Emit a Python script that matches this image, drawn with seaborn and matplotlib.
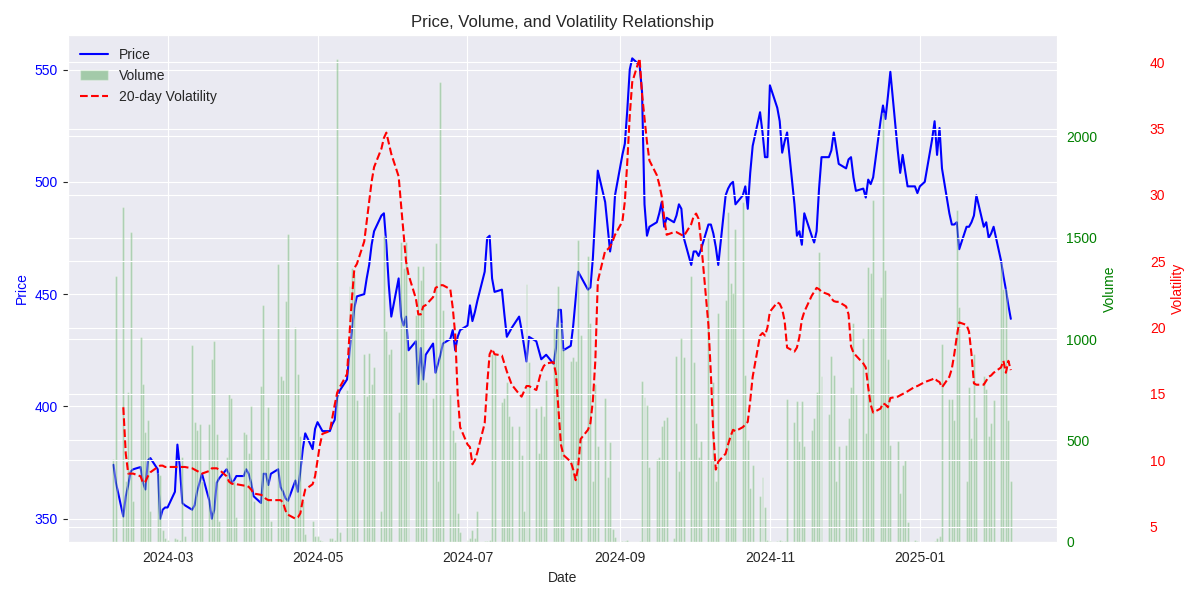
#!/usr/bin/env python3
# -*- coding: utf8 -*-

import numpy as np
import pandas as pd
import seaborn as sns
import matplotlib
matplotlib.use('Agg')
import matplotlib.pyplot as plt

# business days, 2024-02-08 .. 2025-02-07
start_date = '2024-02-08'
end_date = '2025-02-07'

# one row per week (Mon..Fri), first row is Thu/Fri
price = [
    374, 366,
    351, 360, 365, 371, 372,
    373, 366, 363, 376, 377,
    372, 350, 354, 355, 355,
    362, 383, 373, 357, 356,
    354, 356, 362, 366, 370,
    358, 350, 354, 366, 368,
    372, 370, 366, 367, 369,
    369, 372, 370, 366, 360,
    357, 370, 370, 365, 370,
    372, 364, 362, 359, 358,
    367, 362, 371, 381, 388,
    381, 390, 393, 391, 389,
    389, 392, 394, 404, 407,
    412, 424, 434, 444, 449,
    450, 457, 463, 472, 478,
    485, 486, 472, 454, 440,
    457, 440, 436, 440, 425,
    429, 410, 426, 412, 423,
    428, 415, 419, 423, 428,
    430, 434, 425, 431, 434,
    436, 445, 438, 442, 447,
    460, 475, 476, 457, 451,
    452, 441, 431, 433, 435,
    440, 434, 427, 420, 431,
    429, 425, 421, 422, 423,
    419, 426, 443, 443, 425,
    427, 436, 448, 460, 458,
    452, 453, 466, 486, 505,
    491, 480, 469, 476, 494,
    512, 517, 532, 550, 555,
    552, 540, 490, 476, 480,
    482, 486, 491, 480, 484,
    482, 485, 490, 488, 475,
    463, 469, 469, 467, 470,
    481, 481, 477, 471, 463,
    494, 497, 499, 500, 490,
    494, 498, 488, 504, 516,
    531, 522, 511, 511, 543,
    533, 527, 513, 518, 522,
    490, 476, 478, 472, 486,
    476, 473, 478, 497, 511,
    511, 514, 522, 515, 508,
    506, 510, 511, 502, 496,
    497, 493, 501, 499, 502,
    527, 534, 528, 538, 549,
    514, 504, 512, 505, 498,
    498, 495, 498, 499, 500,
    519, 527, 512, 524, 506,
    486, 481, 481, 482, 470,
    480, 480, 482, 485, 494,
    480, 482, 475, 477, 480,
    465, 458, 452, 445, 439,
]

volume = [
    410, 1310,
    1650, 300, 740, 1530, 200,
    1010, 780, 540, 600, 150,
    340, 330, 60, 20, 10,
    20, 15, 10, 420, 30,
    970, 590, 550, 580, 300,
    580, 900, 990, 530, 100,
    420, 730, 710, 300, 120,
    540, 530, 440, 670, 200,
    770, 1170, 410, 665, 100,
    1370, 820, 800, 1190, 1520,
    1060, 830, 520, 200, 40,
    100, 30, 30, 10, 5,
    20, 20, 10, 2380, 50,
    750, 1260, 1350, 1320, 700,
    925, 720, 930, 780, 860,
    150, 1510, 1040, 925, 950,
    640, 1480, 1350, 1480, 500,
    1120, 1360, 1290, 1360, 790,
    710, 1475, 300, 2270, 1145,
    730, 550, 490, 140, 50,
    10, 20, 60, 20, 150,
    5, 5, 10, 925, 925,
    690, 710, 790, 620, 570,
    570, 430, 150, 1270, 885,
    660, 440, 670, 620, 800,
    1060, 1060, 1260, 1080, 950,
    890, 910, 890, 1490, 1020,
    1410, 1080, 300, 780, 470,
    710, 320, 490, 65, 25,
    5, 5, 10, 0, 0,
    5, 795, 715, 675, 370,
    410, 420, 570, 600, 615,
    20, 915, 350, 1005, 910,
    1310, 885, 585, 420, 495,
    1500, 410, 790, 300, 1130,
    1195, 1625, 1275, 1225, 1545,
    1675, 825, 500, 265, 380,
    225, 320, 170, 10, 5,
    5, 10, 5, 5, 705,
    590, 695, 495, 695, 470,
    550, 610, 740, 1430, 820,
    630, 915, 825, 300, 470,
    475, 610, 765, 1080, 730,
    1005, 535, 1355, 1325, 1685,
    1210, 2115, 1340, 900, 475,
    495, 240, 380, 405, 95,
    10, 5, 0, 0, 0,
    0, 5, 20, 30, 975,
    705, 705, 600, 1635, 1160,
    300, 765, 510, 925, 615,
    820, 755, 520, 585, 700,
    1375, 1245, 1245, 600, 300,
]

volatility = [
    np.nan, np.nan,
    14.0, 10.5, 9.0, 9.0, 9.0,
    8.8, 8.3, 8.4, 8.8, 9.1,
    9.5, 9.6, 9.6, 9.5, 9.5,
    9.5, 9.5, 9.5, 9.5, 9.5,
    9.4, 9.3, 9.2, 9.1, 9.0,
    9.2, 9.4, 9.4, 9.4, 9.3,
    8.8, 8.4, 8.25, 8.2, 8.2,
    8.1, 8.1, 8.0, 7.8, 7.5,
    7.4, 7.3, 7.1, 7.0, 7.0,
    7.0, 7.0, 6.8, 6.2, 5.9,
    5.6, 5.7, 6.0, 7.0, 7.8,
    8.2, 8.8, 10.0, 11.2, 12.0,
    12.2, 13.2, 14.2, 15.1, 15.5,
    16.5, 19.5, 22.2, 24.5, 24.8,
    26.5, 28.0, 29.5, 31.0, 32.1,
    33.5, 34.3, 34.7, 33.9, 33.1,
    31.4, 29.2, 27.1, 25.0, 24.0,
    22.2, 21.0, 21.0, 21.6, 21.7,
    22.3, 23.0, 23.1, 23.2, 23.2,
    22.9, 21.5, 19.5, 15.0, 12.5,
    11.2, 11.0, 9.7, 10.0, 10.6,
    12.8, 15.7, 18.0, 18.4, 18.0,
    17.9, 17.3, 16.7, 16.2, 15.7,
    15.0, 14.8, 15.2, 15.6, 15.6,
    15.3, 16.0, 16.7, 17.1, 17.3,
    17.4, 16.5, 13.8, 11.2, 10.4,
    9.9, 9.3, 8.5, 9.5, 11.6,
    12.3, 12.8, 14.5, 17.5, 23.5,
    25.8, 25.9, 26.1, 26.5, 27.0,
    28.0, 29.5, 32.5, 36.0, 38.5,
    40.3, 37.6, 35.8, 34.0, 32.6,
    31.5, 30.8, 29.9, 28.3, 27.0,
    27.2, 27.2, 27.1, 27.0, 26.9,
    27.8, 28.4, 28.6, 28.2, 26.5,
    20.2, 16.5, 12.0, 9.3, 9.9,
    10.5, 11.2, 11.8, 12.3, 12.2,
    12.5, 12.7, 12.9, 14.5, 16.3,
    19.4, 19.6, 19.4, 20.0, 21.2,
    21.9, 21.8, 21.4, 20.5, 18.5,
    18.2, 18.5, 19.3, 20.6, 21.2,
    22.4, 22.7, 23.0, 22.9, 22.7,
    22.5, 22.2, 22.0, 21.95, 21.95,
    21.6, 21.0, 18.6, 18.1, 17.9,
    17.3, 17.0, 15.5, 14.2, 13.6,
    13.9, 14.3, 14.2, 14.0, 14.7,
    14.8, 14.9, 15.0, 15.1, 15.2,
    15.55, 15.6, 15.7, 15.8, 15.9,
    16.1, 16.2, 16.0, 15.9, 15.5,
    16.3, 16.9, 18.0, 19.3, 20.4,
    20.2, 19.7, 18.0, 15.8, 15.7,
    15.7, 16.0, 16.3, 16.4, 16.6,
    17.0, 17.5, 16.6, 17.5, 16.8,
]


def plot(output='out.png'):
    dates = pd.bdate_range(start_date, end_date)
    df = pd.DataFrame({'Date': dates, 'Price': price,
                       'Volume': volume, 'Volatility': volatility})

    sns.set_style('darkgrid')
    plt.rcParams['font.family'] = ['Liberation Sans', 'DejaVu Sans']

    fig, ax1 = plt.subplots(figsize=(12, 6))

    sns.lineplot(data=df, x='Date', y='Price', ax=ax1, color='blue',
                 linewidth=1.5, label='Price', legend=False)
    ax1.set_xlabel('Date')
    ax1.set_ylabel('Price', color='blue')
    ax1.tick_params(axis='y', labelcolor='blue')

    ax2 = ax1.twinx()
    ax2.bar(df['Date'], df['Volume'], color='green', alpha=0.3,
            label='Volume')
    ax2.set_ylabel('Volume', color='green')
    ax2.tick_params(axis='y', labelcolor='green', color=(0, 0, 0, 0))

    ax3 = ax1.twinx()
    ax3.spines['right'].set_position(('outward', 60))
    sns.lineplot(data=df, x='Date', y='Volatility', ax=ax3, color='red',
                 linestyle='--', linewidth=1.5, label='20-day Volatility',
                 legend=False)
    ax3.set_ylabel('Volatility', color='red')
    ax3.tick_params(axis='y', labelcolor='red', color=(0, 0, 0, 0))

    handles, labels = [], []
    for ax in (ax1, ax2, ax3):
        h, l = ax.get_legend_handles_labels()
        handles += h
        labels += l
    ax3.legend(handles, labels, loc='upper left', frameon=False)

    ax1.set_title('Price, Volume, and Volatility Relationship')
    fig.tight_layout()
    fig.savefig(output, dpi=100)
    print('Saved', output)


if __name__ == '__main__':
    plot()
